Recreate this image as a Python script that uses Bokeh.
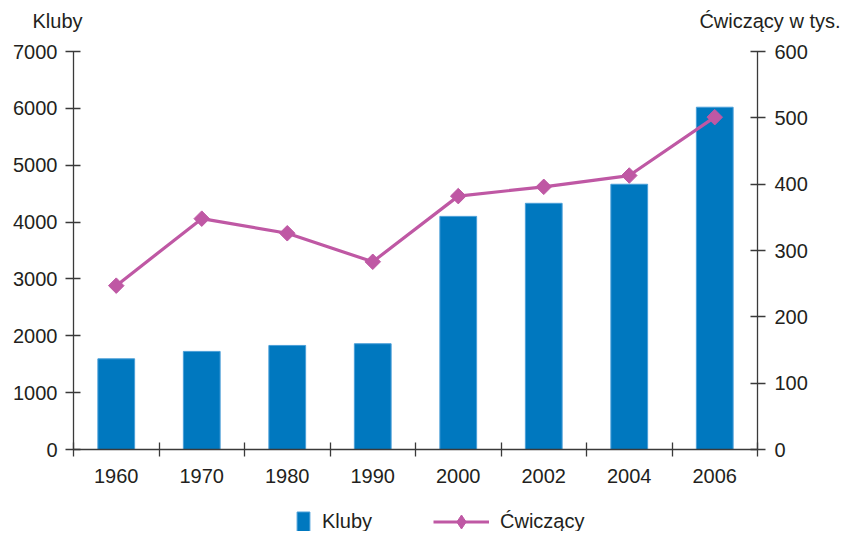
import math
from bokeh.plotting import figure
from bokeh.models import (Range1d, LinearAxis, FixedTicker, Legend, LegendItem,
                          Label, ColumnDataSource)
from bokeh.embed import file_html
from bokeh.resources import INLINE

years = ["1960", "1970", "1980", "1990", "2000", "2002", "2004", "2006"]
kluby = [1595, 1725, 1830, 1860, 4100, 4330, 4665, 6020]
cwiczacy = [247, 348, 326, 283, 382, 396, 413, 501]
left_ticks = [0, 1000, 2000, 3000, 4000, 5000, 6000, 7000]
right_ticks = [0, 100, 200, 300, 400, 500, 600]
LEFT_MAX = 7000
RIGHT_MAX = 600

FONT = "Liberation Sans"
TXT = "#231f20"
AX = "#3a3a3a"
BLUE = "#0078bf"
MAG = "#bf58a4"

# page layout (pixels): the frame fills the canvas, axes sit at fixed places
W, H = 842, 531
AX_L, AX_R = 73, 757      # x pixel of left / right axis
AX_TOP, AX_BOT = 51, 449  # y pixel of max / zero

n = len(years)
ppx = (AX_R - AX_L) / n
x0 = -AX_L / ppx
x1 = n + (W - AX_R) / ppx
ppy = (AX_BOT - AX_TOP) / LEFT_MAX
y0 = -(H - AX_BOT) / ppy
y1 = LEFT_MAX + AX_TOP / ppy
ppr = (AX_BOT - AX_TOP) / RIGHT_MAX
r0 = -(H - AX_BOT) / ppr
r1 = RIGHT_MAX + AX_TOP / ppr

pos = [i + 0.5 for i in range(n)]
src = ColumnDataSource(dict(x=pos, k=kluby, c=cwiczacy))

p = figure(width=W, height=H, output_backend="svg", toolbar_location=None,
           x_range=Range1d(x0, x1), y_range=Range1d(y0, y1),
           min_border=0, min_border_left=0, min_border_right=0,
           min_border_top=0, min_border_bottom=0)
p.extra_y_ranges = {"right": Range1d(r0, r1)}
p.outline_line_color = None
p.grid.visible = False

bars = p.vbar(x="x", top="k", width=0.43, source=src, fill_color=BLUE,
              line_color="#4a9fd8", line_width=1)
ln = p.line(x="x", y="c", source=src, y_range_name="right", line_color=MAG,
            line_width=3.2)
# diamond drawn under the rotated squares; it supplies the legend glyph
dia = p.scatter(x="x", y="c", source=src, y_range_name="right", marker="diamond",
                size=11, fill_color=MAG, line_color=MAG)
pts = p.scatter(x="x", y="c", source=src, y_range_name="right", marker="square",
                size=11, angle=math.pi / 4, fill_color=MAG, line_color=MAG)

xa = p.xaxis[0]
xa.fixed_location = 0
xa.bounds = (0, n)
xa.ticker = FixedTicker(ticks=pos, minor_ticks=list(range(n + 1)))
xa.major_label_overrides = {v: years[i] for i, v in enumerate(pos)}
xa.major_tick_in = 0
xa.major_tick_out = 0
xa.minor_tick_in = 7
xa.minor_tick_out = 7
xa.major_label_standoff = 12

ya = p.yaxis[0]
ya.fixed_location = 0
ya.bounds = (0, LEFT_MAX)
ya.ticker = FixedTicker(ticks=left_ticks)
ya.major_tick_in = 7
ya.major_tick_out = 8
ya.major_label_standoff = 8

ra = LinearAxis(y_range_name="right", ticker=FixedTicker(ticks=right_ticks))
ra.fixed_location = n
ra.bounds = (0, RIGHT_MAX)
ra.major_tick_in = 7
ra.major_tick_out = 8
ra.major_label_standoff = 9
p.add_layout(ra, "right")

for ax in [xa, ya, ra]:
    ax.axis_line_color = AX
    ax.axis_line_width = 1.3
    ax.major_tick_line_color = AX
    ax.major_tick_line_width = 1.3
    ax.minor_tick_line_color = AX if ax is xa else None
    ax.minor_tick_line_width = 1.3
    ax.major_label_text_font = FONT
    ax.major_label_text_font_size = "20px"
    ax.major_label_text_color = TXT

t1 = Label(x=0, y=LEFT_MAX, x_offset=9, y_offset=31, text="Kluby",
           text_align="right", text_baseline="middle", text_font=FONT,
           text_font_size="20px", text_color=TXT)
t2 = Label(x=n, y=LEFT_MAX, x_offset=83, y_offset=31, text="Ćwiczący w tys.",
           text_align="right", text_baseline="middle", text_font=FONT,
           text_font_size="20px", text_color=TXT)
p.add_layout(t1)
p.add_layout(t2)

common = dict(label_standoff=11, padding=0, margin=0,
              border_line_color=None, background_fill_alpha=0,
              label_text_font=FONT, label_text_font_size="20px",
              label_text_color=TXT)
leg1 = Legend(items=[LegendItem(label="Kluby", renderers=[bars])],
              location=(295, H - 534), glyph_width=16, glyph_height=25, **common)
leg2 = Legend(items=[LegendItem(label="Ćwiczący", renderers=[ln, dia])],
              location=(433, H - 539), glyph_width=56, glyph_height=35, **common)
p.add_layout(leg1, "center")
p.add_layout(leg2, "center")

open("out.html", "w").write(file_html(p, INLINE))
